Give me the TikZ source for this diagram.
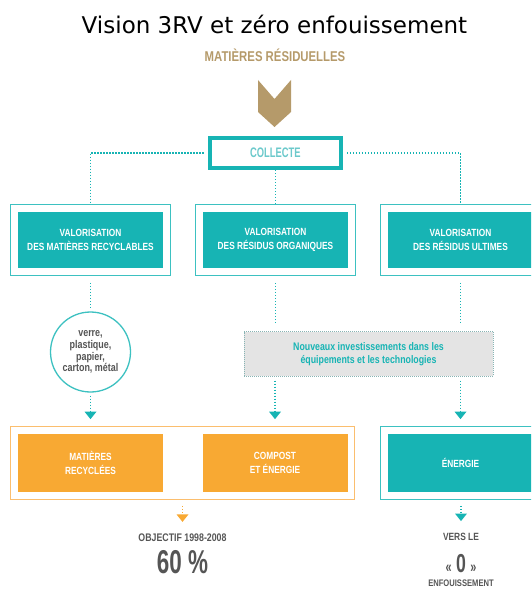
\documentclass[tikz,border=0pt]{standalone}
\usepackage{fontspec}
\setmainfont{Liberation Sans}
\newfontfamily\titlefont{DejaVu Sans}
\newfontfamily\cond[FakeStretch=0.8]{Liberation Sans}
\newfontfamily\narrow[FakeStretch=0.68]{Liberation Sans}
\usepackage{tikz}
\usetikzlibrary{arrows.meta,positioning,fit,backgrounds}
\definecolor{aqua}{HTML}{17B4B4}
\definecolor{aqualine}{HTML}{3DC1C1}
\definecolor{aqualite}{HTML}{6CC9CB}
\definecolor{amber}{HTML}{F8A933}
\definecolor{amberline}{HTML}{FBBE6E}
\definecolor{gold}{HTML}{B59A6A}
\definecolor{txtgray}{HTML}{555555}
\definecolor{panel}{HTML}{E4E4E4}

\begin{document}
\begin{tikzpicture}[
  x=1pt, y=-1pt,
  tealbox/.style={fill=aqua,text=white,minimum width=145pt,minimum height=56pt,
                  align=center,inner sep=0pt,
                  font=\cond\bfseries\fontsize{10.4}{14}\selectfont},
  ambox/.style={tealbox,fill=amber,minimum height=58pt},
  rim/.style={draw=aqualine,line width=1.3pt,inner sep=7pt},
  amrim/.style={rim,draw=amberline},
  dline/.style={draw=aqua,line width=1.6pt,dash pattern=on 1.4pt off 1.6pt},
  darr/.style={dline,-{Triangle[width=12pt,length=7.5pt,fill=aqua,line width=0pt]}},
  lbl/.style={text=txtgray,inner sep=0pt,align=center,font=\cond\bfseries},
]
\useasboundingbox (0,0) rectangle (531,591);
\clip (0,0) rectangle (531,591);

% --- head: title, source, chevron --------------------------------------------
\node[anchor=base,inner sep=0pt,font=\titlefont\fontsize{23}{26}\selectfont]
  (title) at (274.5,34) {Vision 3RV et zéro enfouissement};
\node[anchor=base,inner sep=0pt,text=gold,font=\cond\bfseries\fontsize{14.2}{15}\selectfont]
  (resid) at (275,62) {MATIÈRES RÉSIDUELLES};
\fill[gold] (258,80) -- (274.5,99) -- (291,80) -- (291,112) -- (274.5,127) -- (258,112) -- cycle;

\node[draw=aqua,line width=4pt,minimum width=131pt,minimum height=30pt,inner sep=0pt,
      text=aqualite,font=\narrow\bfseries\fontsize{13.8}{15}\selectfont]
  (coll) at (275.3,153) {COLLECTE};

% --- row 1: the three streams ------------------------------------------------
\node[tealbox] (v1) at ( 90.5,240) {VALORISATION\\DES MATIÈRES RECYCLABLES};
\node[tealbox] (v2) at (275.5,240) {VALORISATION\\DES RÉSIDUS ORGANIQUES};
\node[tealbox] (v3) at (460.5,240) {VALORISATION\\DES RÉSIDUS ULTIMES};
\node[rim,fit=(v1)] (f1) {};
\node[rim,fit=(v2)] (f2) {};
\node[rim,fit=(v3)] (f3) {};

% --- row 2: materials, investments -------------------------------------------
\node[circle,draw=aqualine,line width=1.3pt,fill=white,minimum size=80pt,inner sep=0pt,
      lbl,font=\cond\bfseries\fontsize{11.2}{11.7}\selectfont]
  (circ) at (90.5,352) {verre,\\plastique,\\papier,\\carton, métal};
\node[fill=panel,draw=aqua!40!gray!70,line width=0.8pt,dash pattern=on 0.8pt off 1.2pt,
      minimum width=249pt,minimum height=44.5pt,inner sep=0pt,align=center,text=aqua,
      font=\cond\bfseries\fontsize{11}{12.5}\selectfont]
  (inv) at (368.5,354) {Nouveaux investissements dans les\\équipements et les technologies};

% --- row 3: results ----------------------------------------------------------
\node[ambox]   (recy) at ( 90.5,463) {MATIÈRES\\RECYCLÉES};
\node[ambox]   (comp) at (275,463) {COMPOST\\ET ÉNERGIE};
\node[tealbox,minimum height=58pt] (ener) at (460.5,463) {ÉNERGIE};
\node[amrim,fit=(recy)(comp)] (orim) {};
\node[rim,fit=(ener)] (erim) {};

% --- foot: targets -----------------------------------------------------------
\node[lbl,font=\cond\bfseries\fontsize{11}{12}\selectfont]   (obj) at (182.5,538) {OBJECTIF 1998-2008};
\node[lbl,font=\narrow\bfseries\fontsize{33}{34}\selectfont] (pct) at (182.5,562.5) {60 \%};
\node[lbl,font=\cond\bfseries\fontsize{10.5}{12}\selectfont] (vers) at (461,537) {VERS LE};
\node[lbl,font=\narrow\bfseries\fontsize{26}{27}\selectfont] (zero) at (461,563.5)
  {{\fontsize{16}{16}\selectfont«}\,0\,{\fontsize{16}{16}\selectfont»}};
\node[lbl,font=\cond\bfseries\fontsize{9.5}{11}\selectfont]  (enf) at (461,583) {ENFOUISSEMENT};

% --- dotted links ------------------------------------------------------------
\draw[dline,shorten <=4pt,shorten >=1pt] (coll.west) -| (f1.north);
\draw[dline,shorten >=1pt] (coll.south) -- (coll.south |- f2.north);
\draw[dline,shorten <=4pt,shorten >=1pt] (coll.east) -| (f3.north);
\draw[dline,shorten <=7pt,shorten >=4pt] (f1.south) -- (circ.north);
\draw[dline,shorten <=7pt,shorten >=9pt] (f2.south) -- (f2.south |- inv.north);
\draw[dline,shorten <=7pt,shorten >=9pt] (f3.south) -- (f3.south |- inv.north);
\draw[darr,shorten <=3pt,shorten >=7pt] (circ.south) -- (circ.south |- orim.north);
\draw[darr,shorten <=4pt,shorten >=7pt] (inv.south -| comp) -- (comp |- orim.north);
\draw[darr,shorten <=4pt,shorten >=7pt] (inv.south -| ener) -- (ener |- erim.north);
\draw[dline,draw=amber,-{Triangle[width=12pt,length=7.5pt,fill=amber,line width=0pt]},
      shorten <=6pt,shorten >=12pt] (orim.south -| obj) -- (obj.north);
\draw[darr,shorten <=6pt,shorten >=12pt] (erim.south -| vers) -- (vers.north);
\end{tikzpicture}
\end{document}
